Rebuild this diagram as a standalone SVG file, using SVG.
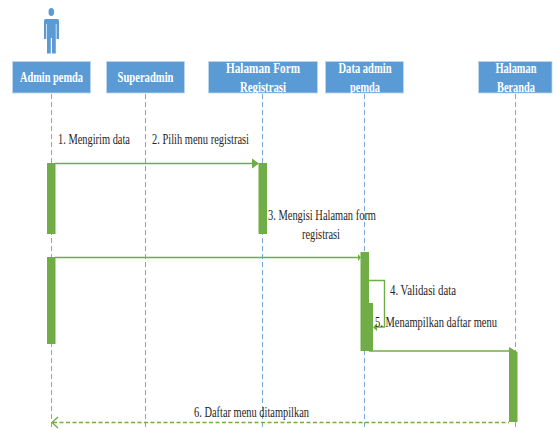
<svg xmlns="http://www.w3.org/2000/svg" width="558" height="430" viewBox="0 0 558 430">
<style>
.box{fill:#5b9bd5;stroke:#bdd7ee;stroke-width:.8}
.hd{font:bold 15px "Liberation Serif",serif;fill:#fff;text-anchor:middle}
.lb{font:14.500px "Liberation Serif",serif;fill:#262626}
.life{stroke:#5b9bd5;stroke-opacity:.85;stroke-width:1;stroke-dasharray:5 3;fill:none}
.act{fill:#70ad47}
.msg{stroke:#70ad47;stroke-width:1.400;fill:none}
.dash{stroke:#70ad47;stroke-width:1.400;fill:none;stroke-dasharray:4 2.500}
</style>
<rect width="558" height="430" fill="#fff"/>
<g id="connectors">
<path class="life" d="M51.500 94V430M145.500 94V430M262.500 94V430M364.500 94V430M515.500 94V430"/>
</g>
<g id="actor" fill="#5b9bd5">
<ellipse cx="51.300" cy="12" rx="2.800" ry="4"/>
<path d="M45.500 19H57.500Q59 19 59 21V39H56.500V24H55.800V53.500H52V38H50.800V53.500H47V24H46.300V39H44V21Q44 19 45.500 19Z"/>
</g>
<g id="n1"><rect class="box" x="12.500" y="61.500" width="78" height="31.500"/><text class="hd" x="51.500" y="82" textLength="63" lengthAdjust="spacingAndGlyphs">Admin pemda</text></g>
<g id="n2"><rect class="box" x="106.500" y="61.500" width="78" height="31.500"/><text class="hd" x="145.500" y="82" textLength="56" lengthAdjust="spacingAndGlyphs">Superadmin</text></g>
<g id="n3"><rect class="box" x="208.500" y="61.500" width="109" height="31.500"/><text class="hd" x="263" y="73" textLength="74" lengthAdjust="spacingAndGlyphs">Halaman Form</text><text class="hd" x="263" y="92" textLength="46" lengthAdjust="spacingAndGlyphs">Registrasi</text></g>
<g id="n4"><rect class="box" x="325.500" y="61.500" width="78" height="31.500"/><text class="hd" x="365" y="73" textLength="53" lengthAdjust="spacingAndGlyphs">Data admin</text><text class="hd" x="365" y="92" textLength="30" lengthAdjust="spacingAndGlyphs">pemda</text></g>
<g id="n5"><rect class="box" x="478.500" y="61.500" width="73.500" height="31.500"/><text class="hd" x="516" y="73" textLength="41" lengthAdjust="spacingAndGlyphs">Halaman</text><text class="hd" x="516" y="92" textLength="38" lengthAdjust="spacingAndGlyphs">Beranda</text></g>
<g id="activations">
<rect class="act" x="47" y="163" width="8.500" height="71"/>
<rect class="act" x="47" y="257" width="8.500" height="87"/>
<rect class="act" x="258.500" y="163" width="8.500" height="71"/>
<rect class="act" x="360.500" y="252" width="8.500" height="99"/>
<rect class="act" x="369" y="303" width="4" height="48"/>
<path class="act" d="M509 347L517.500 352V422H509Z"/>
</g>
<g id="messages">
<path class="msg" d="M55 163.500H253"/><path class="act" d="M252 158.500L259 163.500L252 168.500Z"/>
<path class="msg" d="M55 257.500H359"/><path class="act" d="M358 254L361 257.500L358 261Z"/>
<path class="msg" d="M369 280.500H384.500V327H374"/><path class="act" d="M377 323L373 327.500L377 331Z"/>
<path class="msg" d="M369 351H512"/>
<path class="dash" d="M53 422.500H509"/><path class="msg" d="M58 417L52 422.500L58 428"/>
</g>
<g id="labels">
<text class="lb" x="58" y="144" textLength="72" lengthAdjust="spacingAndGlyphs">1. Mengirim data</text>
<text class="lb" x="152" y="144" textLength="97" lengthAdjust="spacingAndGlyphs">2. Pilih menu registrasi</text>
<text class="lb" x="268" y="220" textLength="108" lengthAdjust="spacingAndGlyphs">3. Mengisi Halaman form</text>
<text class="lb" x="302" y="239" textLength="38" lengthAdjust="spacingAndGlyphs">registrasi</text>
<text class="lb" x="390" y="295" textLength="66" lengthAdjust="spacingAndGlyphs">4. Validasi data</text>
<text class="lb" x="375" y="327" textLength="122" lengthAdjust="spacingAndGlyphs">5. Menampilkan daftar menu</text>
<text class="lb" x="194" y="417" textLength="115" lengthAdjust="spacingAndGlyphs">6. Daftar menu ditampilkan</text>
</g>
</svg>
